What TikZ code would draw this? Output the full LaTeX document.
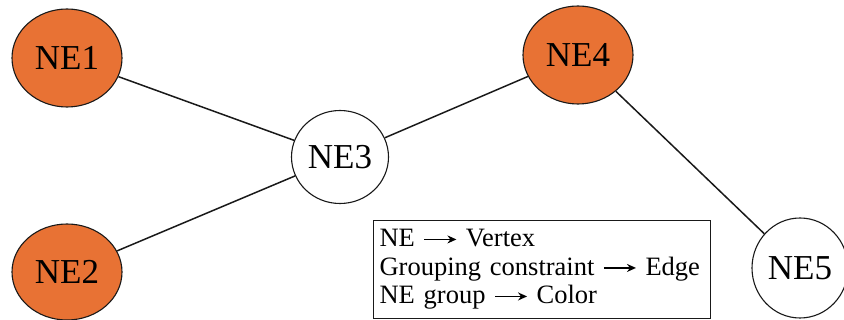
\documentclass[tikz,border=0pt]{standalone}
\usepackage{fontspec}
\setmainfont{Liberation Serif}
\usetikzlibrary{arrows.meta}
\definecolor{neorange}{RGB}{232,114,52}
\definecolor{edgecol}{RGB}{25,25,25}
\newcommand\legarrow{\tikz[baseline=-0.28em]\draw[line width=1.4pt,-{Stealth[length=9pt,width=8pt]}] (0,0)--(32pt,0);}
\tikzset{
  ne/.style={ellipse, draw=edgecol, line width=1.1pt, minimum width=#1, font=\fontsize{35}{38}\selectfont, inner sep=0pt},
  ne/.default={110pt},
  orange/.style={fill=neorange},
  white/.style={fill=white},
  link/.style={draw=edgecol, line width=1.5pt},
  legend/.style={draw=edgecol, line width=1.1pt, font=\fontsize{26.5}{28.5}\selectfont, align=left, inner xsep=6pt, inner ysep=6pt, anchor=north west, text width=325pt}
}
\usetikzlibrary{shapes.geometric}
\begin{document}
\begin{tikzpicture}[x=1pt,y=-1pt]
\useasboundingbox (0,0) rectangle (844,320);
\node[ne=110pt, orange, minimum height=98pt] (ne1) at (67,58) {NE1};
\node[ne=110pt, orange, minimum height=96pt] (ne2) at (67,272) {NE2};
\node[ne=97pt, white, minimum height=93pt] (ne3) at (340,157) {NE3};
\node[ne=110pt, orange, minimum height=98pt] (ne4) at (578,55) {NE4};
\node[ne=96pt, white, minimum height=100pt] (ne5) at (800,268) {NE5};
\draw[link] (ne1) -- (ne3);
\draw[link] (ne2) -- (ne3);
\draw[link] (ne3) -- (ne4);
\draw[link] (ne4) -- (ne5);
\node[legend, minimum height=98pt] (leg) at (373,220) {NE \legarrow\ Vertex\\Grouping constraint \legarrow\ Edge\\NE group \legarrow\ Color};
\end{tikzpicture}
\end{document}
